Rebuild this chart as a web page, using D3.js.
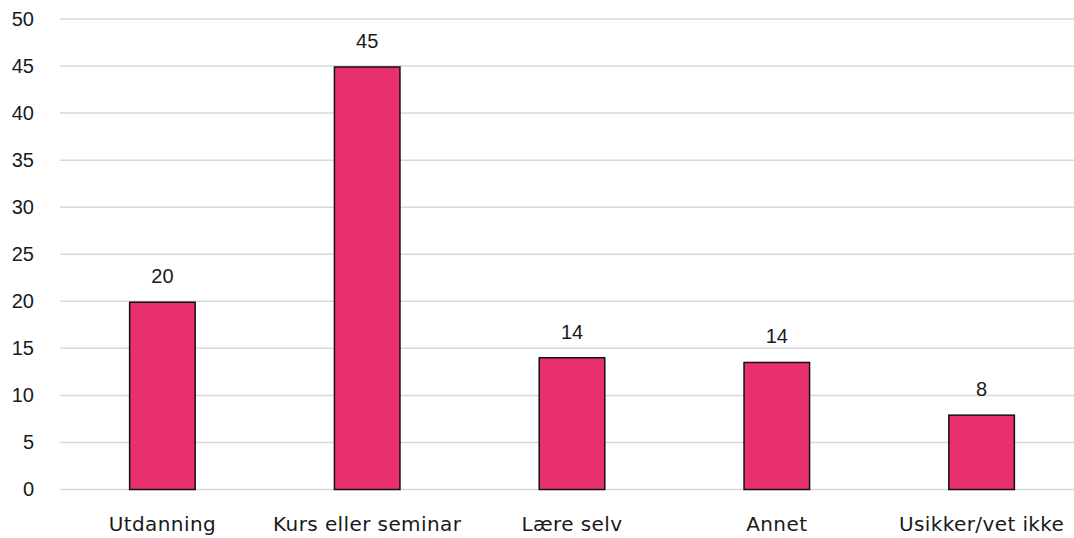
<!DOCTYPE html>
<html>
<head>
<meta charset="utf-8">
<script src="https://cdn.jsdelivr.net/npm/d3@7"></script>
<style>
  body { margin: 0; background: #fff; }
  svg { display: block; }
  .num { font-family: "Liberation Sans", Arial, sans-serif; font-size: 20px; fill: #1a1a1a; }
  .cat { font-family: "DejaVu Sans", sans-serif; font-size: 20px; letter-spacing: 0.4px; fill: #1a1a1a; }
</style>
</head>
<body>
<svg id="chart"></svg>
<script>
const categories = ["Utdanning", "Kurs eller seminar", "Lære selv", "Annet", "Usikker/vet ikke"];
const values = [19.9, 44.9, 14.0, 13.5, 7.9];
const yTicks = [0, 5, 10, 15, 20, 25, 30, 35, 40, 45, 50];

const width = 1074;
const height = 538;
const margin = { top: 19, right: -10, bottom: 48.5, left: 60 };

const svg = d3.select('#chart')
  .attr('width', width)
  .attr('height', height);

const x = d3.scaleBand()
  .domain(categories)
  .range([margin.left, width - margin.right])
  .paddingInner(0.68)
  .paddingOuter(0.34);

const y = d3.scaleLinear()
  .domain([0, 50])
  .range([height - margin.bottom, margin.top]);

// gridlines
svg.append('g')
  .selectAll('line')
  .data(yTicks)
  .enter().append('line')
  .attr('x1', margin.left)
  .attr('x2', width - margin.right)
  .attr('y1', d => y(d))
  .attr('y2', d => y(d))
  .attr('stroke', '#d9d9d9')
  .attr('stroke-width', 1.5);

// y axis labels
const yAxis = svg.append('g')
  .attr('transform', `translate(${margin.left - 26}, 0)`)
  .call(d3.axisLeft(y).tickValues(yTicks).tickSize(0).tickPadding(0));
yAxis.select('.domain').remove();
yAxis.selectAll('text')
  .attr('class', 'num')
  .attr('font-family', null)
  .attr('font-size', null)
  .attr('dy', '0.32em');

// bars
svg.append('g')
  .selectAll('rect')
  .data(values)
  .enter().append('rect')
  .attr('x', (d, i) => x(categories[i]))
  .attr('y', d => y(d))
  .attr('width', x.bandwidth())
  .attr('height', d => y(0) - y(d))
  .attr('fill', '#e83070')
  .attr('stroke', '#111')
  .attr('stroke-width', 1.5);

// value labels
svg.append('g')
  .selectAll('text')
  .data(values)
  .enter().append('text')
  .attr('class', 'num')
  .attr('text-anchor', 'middle')
  .attr('x', (d, i) => x(categories[i]) + x.bandwidth() / 2)
  .attr('y', d => y(d) - 19)
  .text(d => Math.round(d));

// category labels
const xAxis = svg.append('g')
  .attr('transform', `translate(0, ${y(0)})`)
  .call(d3.axisBottom(x).tickSize(0).tickPadding(0));
xAxis.select('.domain').remove();
xAxis.selectAll('text')
  .attr('class', 'cat')
  .attr('font-family', null)
  .attr('font-size', null)
  .attr('dy', null)
  .attr('y', 41);
</script>
</body>
</html>
